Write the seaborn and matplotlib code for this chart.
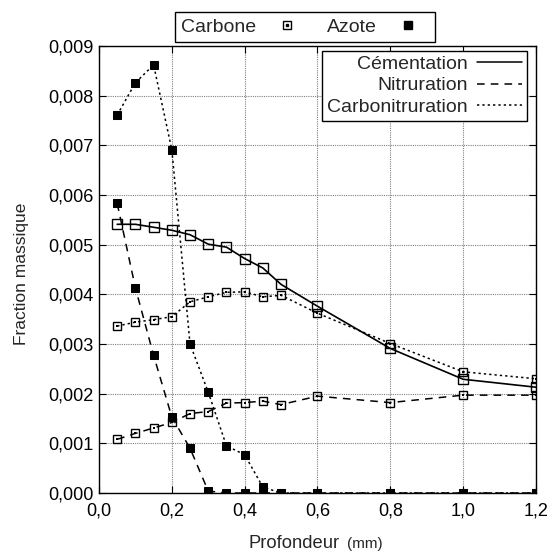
import numpy as np
import pandas as pd
import matplotlib
matplotlib.use("Agg")
import matplotlib.pyplot as plt
import seaborn as sns
from matplotlib.lines import Line2D
from matplotlib.ticker import FuncFormatter, MultipleLocator

# Data
profondeur = [0.05, 0.10, 0.15, 0.20, 0.25, 0.30, 0.35, 0.40, 0.45, 0.50,
              0.60, 0.80, 1.00, 1.20]

carbone_cementation = [0.00541, 0.00541, 0.00535, 0.00529, 0.00520, 0.00501,
                       0.00495, 0.00472, 0.00453, 0.00420, 0.00376, 0.00291,
                       0.00229, 0.00213]
carbone_nitruration = [0.00108, 0.00120, 0.00131, 0.00142, 0.00160, 0.00164,
                       0.00181, 0.00182, 0.00185, 0.00178, 0.00195, 0.00182,
                       0.00197, 0.00197]
carbone_carbonitruration = [0.00336, 0.00344, 0.00349, 0.00355, 0.00385,
                            0.00395, 0.00404, 0.00405, 0.00395, 0.00398,
                            0.00362, 0.00301, 0.00244, 0.00230]
azote_nitruration = [0.00583, 0.00413, 0.00277, 0.00153, 0.00090, 0.00004,
                     0.0, 0.0, 0.0, 0.0, 0.0, 0.0, 0.0, 0.0]
azote_carbonitruration = [0.00761, 0.00826, 0.00862, 0.00691, 0.00300,
                          0.00203, 0.00095, 0.00077, 0.00012, 0.0, 0.0, 0.0,
                          0.0, 0.0]

traitements = ["Cémentation", "Nitruration", "Carbonitruration"]
styles = {"Cémentation": "-", "Nitruration": (0, (5, 4)),
          "Carbonitruration": (0, (1.5, 2))}

sns.set_style("ticks")
plt.rcParams["font.family"] = ["Liberation Sans", "DejaVu Sans"]

fig = plt.figure(figsize=(5.49, 5.54), dpi=100)
ax = fig.add_axes([0.1803, 0.1101, 0.7960, 0.8069])

df_c = pd.DataFrame({"x": profondeur, "cem": carbone_cementation,
                     "nit": carbone_nitruration,
                     "cn": carbone_carbonitruration,
                     "az_nit": azote_nitruration,
                     "az_cn": azote_carbonitruration})

# Carbon curves
sns.lineplot(data=df_c, x="x", y="cem", ax=ax, color="black", lw=1.2,
             linestyle="-", marker="s", markersize=6.5, markerfacecolor="none",
             markeredgecolor="black", markeredgewidth=1.0)
for col, key in [("nit", "Nitruration"), ("cn", "Carbonitruration")]:
    sns.lineplot(data=df_c, x="x", y=col, ax=ax, color="black", lw=1.1,
                 linestyle=styles[key], marker="s", markersize=5.5,
                 markerfacecolor="none", markeredgecolor="black",
                 markeredgewidth=1.0)
    sns.scatterplot(data=df_c, x="x", y=col, ax=ax, color="black",
                    marker="s", s=2, linewidth=0, zorder=5)

# Nitrogen curves
for col, key in [("az_nit", "Nitruration"), ("az_cn", "Carbonitruration")]:
    sns.lineplot(data=df_c, x="x", y=col, ax=ax, color="black", lw=1.1,
                 linestyle=styles[key], marker="s", markersize=6,
                 markerfacecolor="black", markeredgecolor="black")

ax.set_xlim(0, 1.2)
ax.set_ylim(0, 0.009)
ax.xaxis.set_major_locator(MultipleLocator(0.2))
ax.yaxis.set_major_locator(MultipleLocator(0.001))
ax.xaxis.set_major_formatter(FuncFormatter(lambda v, p: f"{v:.1f}".replace(".", ",")))
ax.yaxis.set_major_formatter(FuncFormatter(lambda v, p: f"{v:.3f}".replace(".", ",")))
ax.tick_params(direction="in", top=True, right=True, length=5, width=0.8,
               labelsize=13, colors="black")
ax.tick_params(axis="x", pad=7)
ax.tick_params(axis="y", pad=4)
ax.grid(True, color="#808080", linestyle=(0, (1, 1)), lw=0.8)
for s in ax.spines.values():
    s.set_color("black")
    s.set_linewidth(1.0)

ax.set_xlabel("")
ax.set_ylabel("")
fig.text(22 / 549, 1 - 274 / 554, "Fraction massique", fontsize=12.5,
         rotation=90, ha="center", va="center")
fig.text(340 / 549, 1 - 548 / 554, "Profondeur", fontsize=13.2,
         ha="right", va="baseline")
fig.text(347 / 549, 1 - 548 / 554, "(mm)", fontsize=11,
         ha="left", va="baseline")

# Legend for species
carbone_h = (Line2D([], [], ls="none", marker="s", markersize=6.2,
                    markerfacecolor="none", markeredgecolor="black"),
             Line2D([], [], ls="none", marker="s", markersize=1.5,
                    color="black"))
azote_h = Line2D([], [], ls="none", marker="s", markersize=6.2, color="black")
leg1 = ax.legend([carbone_h, azote_h], ["Carbone", "Azote"], ncol=2,
                 loc="center right", bbox_to_anchor=(435 / 549, 1 - 27 / 554),
                 bbox_transform=fig.transFigure, markerfirst=False,
                 frameon=True, fancybox=False, edgecolor="black",
                 framealpha=1, fontsize=14, handlelength=2.2,
                 columnspacing=0.95, borderpad=0.3, handletextpad=0.5,
                 borderaxespad=0.0)
leg1.get_frame().set_linewidth(1.0)
ax.add_artist(leg1)

# Legend for treatments
trait_h = [Line2D([], [], color="black", lw=1.1, linestyle=styles[t])
           for t in traitements]
leg2 = ax.legend(trait_h, traitements, loc="upper right",
                 bbox_to_anchor=(527 / 549, 1 - 50.5 / 554),
                 bbox_transform=fig.transFigure, markerfirst=False,
                 frameon=True, fancybox=False, edgecolor="black",
                 framealpha=1, fontsize=14, handlelength=2.3,
                 borderpad=0.25, labelspacing=0.2, borderaxespad=0.0,
                 handletextpad=0.5)
leg2.get_frame().set_linewidth(1.0)
leg2._legend_box.align = "right"

fig.savefig("out.png", dpi=100)
